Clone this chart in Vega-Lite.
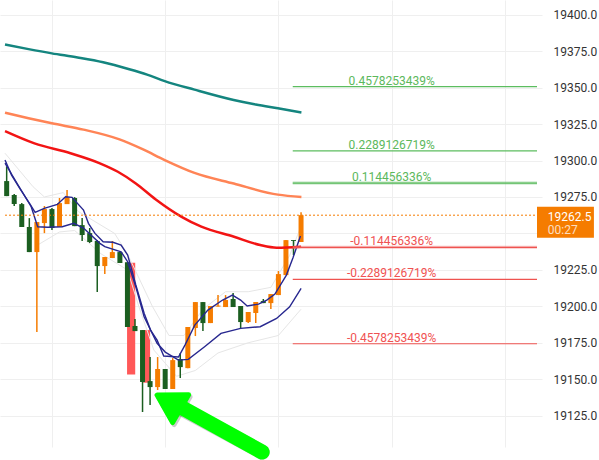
{
  "$schema": "https://vega.github.io/schema/vega-lite/v6.json",
  "width": 542,
  "height": 447,
  "padding": {"left": 0, "top": 0, "right": 57, "bottom": 13},
  "autosize": {"type": "none"},
  "background": "white",
  "config": {"view": {"stroke": null}, "font": "Roboto"},
  "datasets": {
    "candles": [
      {"x": 1, "o": 19285.9, "h": 19296.0, "l": 19275.6, "c": 19275.6, "d": "down"},
      {"x": 2, "o": 19276.3, "h": 19277.0, "l": 19268.8, "c": 19270.1, "d": "down"},
      {"x": 3, "o": 19270.1, "h": 19270.8, "l": 19254.4, "c": 19254.4, "d": "down"},
      {"x": 4, "o": 19254.4, "h": 19260.5, "l": 19237.2, "c": 19237.2, "d": "down"},
      {"x": 5, "o": 19237.2, "h": 19257.8, "l": 19182.3, "c": 19257.8, "d": "up"},
      {"x": 6, "o": 19257.1, "h": 19268.8, "l": 19250.2, "c": 19266.7, "d": "up"},
      {"x": 7, "o": 19266.7, "h": 19267.4, "l": 19252.3, "c": 19253.7, "d": "down"},
      {"x": 8, "o": 19254.4, "h": 19274.3, "l": 19254.4, "c": 19270.8, "d": "up"},
      {"x": 9, "o": 19270.1, "h": 19279.8, "l": 19270.1, "c": 19274.9, "d": "up"},
      {"x": 10, "o": 19274.3, "h": 19274.9, "l": 19255.0, "c": 19255.0, "d": "down"},
      {"x": 11, "o": 19255.7, "h": 19260.5, "l": 19244.8, "c": 19248.9, "d": "down"},
      {"x": 12, "o": 19250.2, "h": 19253.7, "l": 19243.4, "c": 19244.1, "d": "down"},
      {"x": 13, "o": 19244.8, "h": 19245.4, "l": 19209.8, "c": 19227.6, "d": "down"},
      {"x": 14, "o": 19227.6, "h": 19233.8, "l": 19222.1, "c": 19233.8, "d": "up"},
      {"x": 15, "o": 19233.1, "h": 19244.8, "l": 19233.1, "c": 19237.2, "d": "up"},
      {"x": 16, "o": 19237.2, "h": 19237.9, "l": 19229.7, "c": 19229.7, "d": "down"},
      {"x": 17, "o": 19230.3, "h": 19230.3, "l": 19185.8, "c": 19185.8, "d": "down"},
      {"x": 18, "o": 19186.5, "h": 19191.3, "l": 19183.0, "c": 19183.0, "d": "down"},
      {"x": 19, "o": 19183.7, "h": 19183.7, "l": 19127.5, "c": 19148.1, "d": "down"},
      {"x": 20, "o": 19148.7, "h": 19165.2, "l": 19132.3, "c": 19144.6, "d": "down"},
      {"x": 21, "o": 19144.6, "h": 19165.2, "l": 19142.6, "c": 19157.0, "d": "up"},
      {"x": 22, "o": 19157.0, "h": 19157.0, "l": 19143.3, "c": 19143.3, "d": "down"},
      {"x": 23, "o": 19143.3, "h": 19164.5, "l": 19143.3, "c": 19163.1, "d": "up"},
      {"x": 24, "o": 19163.8, "h": 19167.9, "l": 19150.8, "c": 19158.3, "d": "down"},
      {"x": 25, "o": 19157.6, "h": 19185.8, "l": 19157.6, "c": 19185.8, "d": "up"},
      {"x": 26, "o": 19185.1, "h": 19202.9, "l": 19179.6, "c": 19202.9, "d": "up"},
      {"x": 27, "o": 19202.9, "h": 19202.9, "l": 19183.0, "c": 19188.5, "d": "down"},
      {"x": 28, "o": 19188.5, "h": 19200.2, "l": 19188.5, "c": 19200.2, "d": "up"},
      {"x": 29, "o": 19199.8, "h": 19207.7, "l": 19199.8, "c": 19200.5, "d": "up"},
      {"x": 30, "o": 19199.5, "h": 19207.7, "l": 19199.5, "c": 19204.3, "d": "up"},
      {"x": 31, "o": 19205.0, "h": 19209.1, "l": 19199.5, "c": 19199.5, "d": "down"},
      {"x": 32, "o": 19200.2, "h": 19200.2, "l": 19185.1, "c": 19189.2, "d": "down"},
      {"x": 33, "o": 19189.2, "h": 19196.1, "l": 19188.5, "c": 19196.1, "d": "up"},
      {"x": 34, "o": 19195.4, "h": 19202.9, "l": 19188.5, "c": 19202.9, "d": "up"},
      {"x": 35, "o": 19203.6, "h": 19205.0, "l": 19202.2, "c": 19202.2, "d": "down"},
      {"x": 36, "o": 19202.2, "h": 19208.4, "l": 19198.1, "c": 19208.4, "d": "up"},
      {"x": 37, "o": 19207.7, "h": 19224.2, "l": 19207.7, "c": 19222.1, "d": "up"},
      {"x": 38, "o": 19221.4, "h": 19245.4, "l": 19221.4, "c": 19245.4, "d": "up"},
      {"x": 39, "o": 19245.4, "h": 19245.4, "l": 19235.1, "c": 19244.8, "d": "down"},
      {"x": 40, "o": 19244.1, "h": 19264.6, "l": 19244.1, "c": 19262.5, "d": "up"}
    ],
    "ma": [
      {"s": "teal", "x": 0.78, "y": 19379.6}, {"s": "teal", "x": 3.9, "y": 19376.4}, {"s": "teal", "x": 6.98, "y": 19373.5}, {"s": "teal", "x": 10.4, "y": 19370.7}, {"s": "teal", "x": 13.78, "y": 19367.4},
      {"s": "teal", "x": 17.25, "y": 19362.6}, {"s": "teal", "x": 19.6, "y": 19358.9}, {"s": "teal", "x": 21.94, "y": 19354.5}, {"s": "teal", "x": 25.88, "y": 19348.6},
      {"s": "teal", "x": 31.08, "y": 19341.5}, {"s": "teal", "x": 34.0, "y": 19338.4}, {"s": "teal", "x": 36.93, "y": 19335.8}, {"s": "teal", "x": 40.05, "y": 19333.0},
      {"s": "coral", "x": 0.78, "y": 19332.8}, {"s": "coral", "x": 3.9, "y": 19329.0}, {"s": "coral", "x": 6.98, "y": 19325.5}, {"s": "coral", "x": 11.18, "y": 19321.2},
      {"s": "coral", "x": 15.95, "y": 19314.5}, {"s": "coral", "x": 19.0, "y": 19307.8}, {"s": "coral", "x": 21.94, "y": 19300.3}, {"s": "coral", "x": 25.88, "y": 19291.5},
      {"s": "coral", "x": 31.08, "y": 19284.2}, {"s": "coral", "x": 36.93, "y": 19276.6}, {"s": "coral", "x": 40.05, "y": 19275.0},
      {"s": "red", "x": 0.78, "y": 19320.2}, {"s": "red", "x": 4.68, "y": 19311.8}, {"s": "red", "x": 9.45, "y": 19305.0},
      {"s": "red", "x": 13.35, "y": 19298.1}, {"s": "red", "x": 15.73, "y": 19292.3}, {"s": "red", "x": 18.11, "y": 19284.3},
      {"s": "red", "x": 20.71, "y": 19273.5}, {"s": "red", "x": 24.18, "y": 19261.4}, {"s": "red", "x": 26.79, "y": 19254.6},
      {"s": "red", "x": 31.12, "y": 19247.7}, {"s": "red", "x": 34.59, "y": 19242.0}, {"s": "red", "x": 36.76, "y": 19240.2},
      {"s": "red", "x": 40.01, "y": 19240.9},
      {"s": "blueA", "x": 0.78, "y": 19300.3}, {"s": "blueA", "x": 1.65, "y": 19290.0}, {"s": "blueA", "x": 2.73, "y": 19280.9},
      {"s": "blueA", "x": 4.03, "y": 19270.6}, {"s": "blueA", "x": 4.77, "y": 19264.4}, {"s": "blueA", "x": 5.98, "y": 19267.2},
      {"s": "blueA", "x": 7.71, "y": 19269.9}, {"s": "blueA", "x": 8.8, "y": 19275.1}, {"s": "blueA", "x": 9.66, "y": 19274.7},
      {"s": "blueA", "x": 11.18, "y": 19266.0}, {"s": "blueA", "x": 11.83, "y": 19256.9}, {"s": "blueA", "x": 12.7, "y": 19250.0},
      {"s": "blueA", "x": 13.78, "y": 19244.3}, {"s": "blueA", "x": 15.08, "y": 19243.9}, {"s": "blueA", "x": 16.16, "y": 19242.0},
      {"s": "blueA", "x": 17.03, "y": 19235.2}, {"s": "blueA", "x": 17.46, "y": 19227.1}, {"s": "blueA", "x": 18.11, "y": 19214.6},
      {"s": "blueA", "x": 19.21, "y": 19195.2}, {"s": "blueA", "x": 20.06, "y": 19183.7}, {"s": "blueA", "x": 20.93, "y": 19176.8},
      {"s": "blueA", "x": 21.81, "y": 19165.9}, {"s": "blueA", "x": 23.76, "y": 19165.2}, {"s": "blueA", "x": 24.62, "y": 19173.4},
      {"s": "blueA", "x": 25.92, "y": 19187.1}, {"s": "blueA", "x": 27.66, "y": 19197.4}, {"s": "blueA", "x": 29.61, "y": 19204.3},
      {"s": "blueA", "x": 30.91, "y": 19207.7}, {"s": "blueA", "x": 31.99, "y": 19204.3}, {"s": "blueA", "x": 32.86, "y": 19200.2},
      {"s": "blueA", "x": 34.37, "y": 19201.5}, {"s": "blueA", "x": 35.46, "y": 19204.3}, {"s": "blueA", "x": 36.54, "y": 19208.4},
      {"s": "blueA", "x": 38.06, "y": 19221.4}, {"s": "blueA", "x": 38.92, "y": 19233.1}, {"s": "blueA", "x": 39.92, "y": 19248.2},
      {"s": "blueB", "x": 0.78, "y": 19298.2}, {"s": "blueB", "x": 2.51, "y": 19283.2}, {"s": "blueB", "x": 4.25, "y": 19268.3},
      {"s": "blueB", "x": 5.11, "y": 19254.6}, {"s": "blueB", "x": 6.41, "y": 19254.2}, {"s": "blueB", "x": 8.36, "y": 19254.6},
      {"s": "blueB", "x": 9.88, "y": 19256.9}, {"s": "blueB", "x": 11.18, "y": 19253.7}, {"s": "blueB", "x": 13.35, "y": 19243.2},
      {"s": "blueB", "x": 14.0, "y": 19240.9}, {"s": "blueB", "x": 16.16, "y": 19237.4}, {"s": "blueB", "x": 17.03, "y": 19230.6},
      {"s": "blueB", "x": 18.11, "y": 19213.4}, {"s": "blueB", "x": 19.21, "y": 19192.8}, {"s": "blueB", "x": 20.93, "y": 19174.6},
      {"s": "blueB", "x": 22.01, "y": 19168.6}, {"s": "blueB", "x": 23.76, "y": 19163.1}, {"s": "blueB", "x": 25.06, "y": 19163.6},
      {"s": "blueB", "x": 27.22, "y": 19172.3}, {"s": "blueB", "x": 29.39, "y": 19181.4}, {"s": "blueB", "x": 31.99, "y": 19184.9},
      {"s": "blueB", "x": 34.59, "y": 19186.0}, {"s": "blueB", "x": 36.76, "y": 19191.7}, {"s": "blueB", "x": 38.49, "y": 19199.7},
      {"s": "blueB", "x": 40.01, "y": 19212.3},
      {"s": "faintU", "x": 0.78, "y": 19305.0}, {"s": "faintU", "x": 4.5, "y": 19282.0}, {"s": "faintU", "x": 6.0, "y": 19275.0},
      {"s": "faintU", "x": 8.5, "y": 19278.0}, {"s": "faintU", "x": 10.5, "y": 19265.0}, {"s": "faintU", "x": 15.3, "y": 19250.0},
      {"s": "faintU", "x": 17.0, "y": 19236.0}, {"s": "faintU", "x": 20.3, "y": 19200.0}, {"s": "faintU", "x": 22.5, "y": 19180.0},
      {"s": "faintU", "x": 24.5, "y": 19180.0}, {"s": "faintU", "x": 27.0, "y": 19198.0}, {"s": "faintU", "x": 30.0, "y": 19210.0},
      {"s": "faintU", "x": 33.0, "y": 19210.0}, {"s": "faintU", "x": 36.0, "y": 19213.0}, {"s": "faintU", "x": 38.5, "y": 19235.0},
      {"s": "faintU", "x": 40.0, "y": 19255.0},
      {"s": "faintL", "x": 5.1, "y": 19242.0}, {"s": "faintL", "x": 8.0, "y": 19251.0}, {"s": "faintL", "x": 10.0, "y": 19252.0},
      {"s": "faintL", "x": 13.5, "y": 19236.0}, {"s": "faintL", "x": 17.0, "y": 19225.0}, {"s": "faintL", "x": 18.5, "y": 19200.0},
      {"s": "faintL", "x": 20.5, "y": 19170.0}, {"s": "faintL", "x": 23.5, "y": 19152.0}, {"s": "faintL", "x": 26.0, "y": 19156.0},
      {"s": "faintL", "x": 29.0, "y": 19168.0}, {"s": "faintL", "x": 33.0, "y": 19175.0}, {"s": "faintL", "x": 37.0, "y": 19180.0},
      {"s": "faintL", "x": 40.0, "y": 19198.0}
    ],
    "boxes": [
      {"x": 16.95, "x2": 18.03, "y": 19229.9, "y2": 19153.3},
      {"x": 19.08, "x2": 20.0, "y": 19183.7, "y2": 19147.6}
    ],
    "levels": [
      {"v": 19350.69, "label": "0.4578253439%", "g": "pos", "k": "outer"},
      {"v": 19306.59, "label": "0.2289126719%", "g": "pos", "k": "outer"},
      {"v": 19284.55, "label": "0.114456336%", "g": "pos", "k": "inner"},
      {"v": 19240.45, "label": "-0.114456336%", "g": "neg", "k": "inner"},
      {"v": 19218.41, "label": "-0.2289126719%", "g": "neg", "k": "outer"},
      {"v": 19174.31, "label": "-0.4578253439%", "g": "neg", "k": "outer"}
    ],
    "arrow": [
      {"x": 24.06, "y": 19130.9, "x2": 34.85, "y2": 19100.0, "hx": 22.76, "hy": 19133.6}
    ],
    "tag": [
      {"price": 19262.5, "text": "19262.5", "timer": "00:27"}
    ]
  },
  "layer": [
    {
      "data": {"name": "boxes"},
      "mark": {"type": "rect", "color": "#ff5858"},
      "encoding": {
        "x": {"field": "x", "type": "quantitative", "scale": {"domain": [0.779, 71.26], "nice": false, "zero": false},
          "axis": {"orient": "bottom", "values": [7, 22, 37, 52, 67], "grid": true, "gridColor": "#efefef", "gridWidth": 1, "labels": false, "ticks": false, "domain": false, "title": null}},
        "x2": {"field": "x2"},
        "y": {"field": "y", "type": "quantitative", "scale": {"domain": [19103.5, 19410.1], "nice": false, "zero": false},
          "axis": {"orient": "right", "values": [19125, 19150, 19175, 19200, 19225, 19250, 19275, 19300, 19325, 19350, 19375, 19400],
            "format": ".1f", "labelExpr": "datum.value == 19250 ? '' : datum.label", "grid": true, "gridColor": "#efefef", "gridWidth": 1,
            "ticks": false, "domain": false, "labelFontSize": 12, "labelColor": "#333333", "labelFont": "Roboto", "labelPadding": 11, "title": null}},
        "y2": {"field": "y2"}
      }
    },
    {
      "data": {"name": "ma"},
      "transform": [{"filter": "datum.s == 'faintU' || datum.s == 'faintL'"}],
      "mark": {"type": "line", "color": "#e6e6e6", "strokeWidth": 1},
      "encoding": {
        "x": {"field": "x", "type": "quantitative", "scale": {"domain": [0.779, 71.26], "nice": false, "zero": false}},
        "y": {"field": "y", "type": "quantitative", "scale": {"domain": [19103.5, 19410.1], "nice": false, "zero": false}},
        "detail": {"field": "s"}
      }
    },
    {
      "data": {"name": "candles"},
      "mark": {"type": "rule", "strokeWidth": 1.5},
      "encoding": {
        "x": {"field": "x", "type": "quantitative", "scale": {"domain": [0.779, 71.26], "nice": false, "zero": false}},
        "y": {"field": "l", "type": "quantitative", "scale": {"domain": [19103.5, 19410.1], "nice": false, "zero": false}},
        "y2": {"field": "h"},
        "color": {"condition": {"test": "datum.d == 'up'", "value": "#f57c00"}, "value": "#1b5e20"}
      }
    },
    {
      "data": {"name": "candles"},
      "mark": {"type": "bar", "size": 5},
      "encoding": {
        "x": {"field": "x", "type": "quantitative", "scale": {"domain": [0.779, 71.26], "nice": false, "zero": false}},
        "y": {"field": "o", "type": "quantitative", "scale": {"domain": [19103.5, 19410.1], "nice": false, "zero": false}},
        "y2": {"field": "c"},
        "color": {"condition": {"test": "datum.d == 'up'", "value": "#f57c00"}, "value": "#1b5e20"}
      }
    },
    {
      "data": {"name": "ma"},
      "transform": [{"filter": "datum.s == 'blueA' || datum.s == 'blueB'"}],
      "mark": {"type": "line", "color": "#27278f", "strokeWidth": 1.4},
      "encoding": {
        "x": {"field": "x", "type": "quantitative", "scale": {"domain": [0.779, 71.26], "nice": false, "zero": false}},
        "y": {"field": "y", "type": "quantitative", "scale": {"domain": [19103.5, 19410.1], "nice": false, "zero": false}},
        "detail": {"field": "s"}
      }
    },
    {
      "data": {"name": "ma"},
      "transform": [{"filter": "datum.s == 'teal'"}],
      "mark": {"type": "line", "color": "#14857f", "strokeWidth": 2.5, "interpolate": "monotone"},
      "encoding": {
        "x": {"field": "x", "type": "quantitative", "scale": {"domain": [0.779, 71.26], "nice": false, "zero": false}},
        "y": {"field": "y", "type": "quantitative", "scale": {"domain": [19103.5, 19410.1], "nice": false, "zero": false}}
      }
    },
    {
      "data": {"name": "ma"},
      "transform": [{"filter": "datum.s == 'coral'"}],
      "mark": {"type": "line", "color": "#ff8456", "strokeWidth": 2.5, "interpolate": "monotone"},
      "encoding": {
        "x": {"field": "x", "type": "quantitative", "scale": {"domain": [0.779, 71.26], "nice": false, "zero": false}},
        "y": {"field": "y", "type": "quantitative", "scale": {"domain": [19103.5, 19410.1], "nice": false, "zero": false}}
      }
    },
    {
      "data": {"name": "ma"},
      "transform": [{"filter": "datum.s == 'red'"}],
      "mark": {"type": "line", "color": "#f21414", "strokeWidth": 2.5, "interpolate": "monotone"},
      "encoding": {
        "x": {"field": "x", "type": "quantitative", "scale": {"domain": [0.779, 71.26], "nice": false, "zero": false}},
        "y": {"field": "y", "type": "quantitative", "scale": {"domain": [19103.5, 19410.1], "nice": false, "zero": false}}
      }
    },
    {
      "data": {"name": "levels"},
      "transform": [{"filter": "datum.k == 'inner'"}],
      "mark": {"type": "rule", "strokeWidth": 3, "opacity": 0.45},
      "encoding": {
        "x": {"datum": 38.9, "type": "quantitative", "scale": {"domain": [0.779, 71.26], "nice": false, "zero": false}},
        "x2": {"datum": 71.26},
        "y": {"field": "v", "type": "quantitative", "scale": {"domain": [19103.5, 19410.1], "nice": false, "zero": false}},
        "color": {"condition": {"test": "datum.g == 'pos'", "value": "#66bb6a"}, "value": "#f28080"}
      }
    },
    {
      "data": {"name": "levels"},
      "mark": {"type": "rule", "strokeWidth": 1.2},
      "encoding": {
        "x": {"datum": 38.9, "type": "quantitative", "scale": {"domain": [0.779, 71.26], "nice": false, "zero": false}},
        "x2": {"datum": 71.26},
        "y": {"field": "v", "type": "quantitative", "scale": {"domain": [19103.5, 19410.1], "nice": false, "zero": false}},
        "color": {"condition": {"test": "datum.g == 'pos'", "value": "#5cbd5f"}, "value": "#ef5350"}
      }
    },
    {
      "data": {"name": "levels"},
      "mark": {"type": "text", "align": "center", "baseline": "alphabetic", "dy": -2, "fontSize": 12, "font": "Roboto"},
      "encoding": {
        "x": {"datum": 52, "type": "quantitative", "scale": {"domain": [0.779, 71.26], "nice": false, "zero": false}},
        "y": {"field": "v", "type": "quantitative", "scale": {"domain": [19103.5, 19410.1], "nice": false, "zero": false}},
        "text": {"field": "label"},
        "color": {"condition": {"test": "datum.g == 'pos'", "value": "#5cb85c"}, "value": "#f05252"}
      }
    },
    {
      "data": {"name": "tag"},
      "mark": {"type": "rule", "color": "#f57c00", "strokeWidth": 1, "strokeDash": [2, 2]},
      "encoding": {
        "x": {"datum": 0.779, "type": "quantitative", "scale": {"domain": [0.779, 71.26], "nice": false, "zero": false}},
        "x2": {"datum": 71.26},
        "y": {"field": "price", "type": "quantitative", "scale": {"domain": [19103.5, 19410.1], "nice": false, "zero": false}}
      }
    },
    {
      "data": {"name": "tag"},
      "mark": {"type": "rect", "color": "#f57c00"},
      "encoding": {
        "x": {"datum": 71.26, "type": "quantitative", "scale": {"domain": [0.779, 71.26], "nice": false, "zero": false}},
        "x2": {"datum": 78.8},
        "y": {"datum": 19268.3, "type": "quantitative", "scale": {"domain": [19103.5, 19410.1], "nice": false, "zero": false}},
        "y2": {"datum": 19247.0}
      }
    },
    {
      "data": {"name": "tag"},
      "mark": {"type": "text", "align": "left", "baseline": "middle", "fontSize": 12, "font": "Roboto", "color": "white"},
      "encoding": {
        "x": {"datum": 72.69, "type": "quantitative", "scale": {"domain": [0.779, 71.26], "nice": false, "zero": false}},
        "y": {"datum": 19261.6, "type": "quantitative", "scale": {"domain": [19103.5, 19410.1], "nice": false, "zero": false}},
        "text": {"field": "text"}
      }
    },
    {
      "data": {"name": "tag"},
      "mark": {"type": "text", "align": "left", "baseline": "middle", "fontSize": 12, "font": "Roboto", "color": "white", "opacity": 0.75},
      "encoding": {
        "x": {"datum": 72.69, "type": "quantitative", "scale": {"domain": [0.779, 71.26], "nice": false, "zero": false}},
        "y": {"datum": 19252.0, "type": "quantitative", "scale": {"domain": [19103.5, 19410.1], "nice": false, "zero": false}},
        "text": {"field": "timer"}
      }
    },
    {
      "data": {"name": "arrow"},
      "mark": {"type": "rule", "color": "#555555", "opacity": 0.3, "strokeWidth": 15, "strokeCap": "round", "xOffset": 1.5, "yOffset": 2},
      "encoding": {
        "x": {"field": "x", "type": "quantitative", "scale": {"domain": [0.779, 71.26], "nice": false, "zero": false}},
        "y": {"field": "y", "type": "quantitative", "scale": {"domain": [19103.5, 19410.1], "nice": false, "zero": false}},
        "x2": {"field": "x2"},
        "y2": {"field": "y2"}
      }
    },
    {
      "data": {"name": "arrow"},
      "mark": {"type": "point", "shape": "M0,-1L1,0.7L-1,0.7Z", "filled": true, "size": 1024, "angle": 300, "color": "#555555", "opacity": 0.3, "stroke": "#555555", "strokeWidth": 5, "strokeJoin": "round", "xOffset": 1.5, "yOffset": 2},
      "encoding": {
        "x": {"field": "hx", "type": "quantitative", "scale": {"domain": [0.779, 71.26], "nice": false, "zero": false}},
        "y": {"field": "hy", "type": "quantitative", "scale": {"domain": [19103.5, 19410.1], "nice": false, "zero": false}}
      }
    },
    {
      "data": {"name": "arrow"},
      "mark": {"type": "rule", "color": "#00ff00", "strokeWidth": 15, "strokeCap": "round"},
      "encoding": {
        "x": {"field": "x", "type": "quantitative", "scale": {"domain": [0.779, 71.26], "nice": false, "zero": false}},
        "y": {"field": "y", "type": "quantitative", "scale": {"domain": [19103.5, 19410.1], "nice": false, "zero": false}},
        "x2": {"field": "x2"},
        "y2": {"field": "y2"}
      }
    },
    {
      "data": {"name": "arrow"},
      "mark": {"type": "point", "shape": "M0,-1L1,0.7L-1,0.7Z", "filled": true, "size": 1024, "angle": 300, "color": "#00ff00", "stroke": "#00ff00", "strokeWidth": 5, "strokeJoin": "round", "opacity": 1},
      "encoding": {
        "x": {"field": "hx", "type": "quantitative", "scale": {"domain": [0.779, 71.26], "nice": false, "zero": false}},
        "y": {"field": "hy", "type": "quantitative", "scale": {"domain": [19103.5, 19410.1], "nice": false, "zero": false}}
      }
    }
  ]
}
